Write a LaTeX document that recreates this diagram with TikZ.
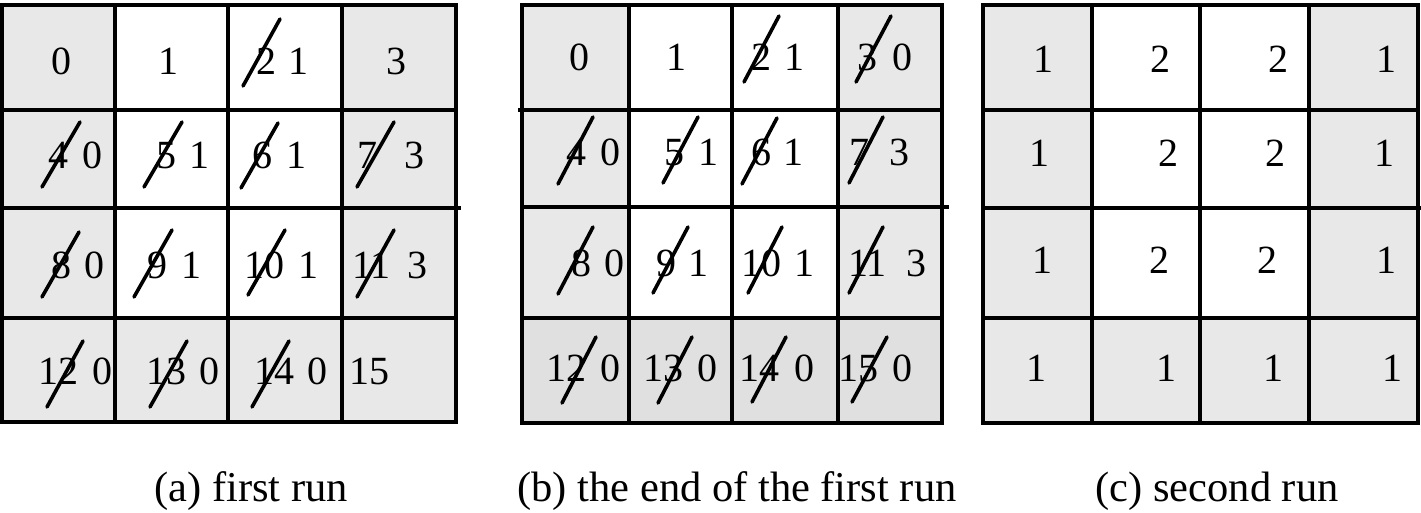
\documentclass[tikz,border=0pt]{standalone}
\usepackage{fontspec}
\setmainfont{Liberation Serif}
\definecolor{cellgray}{HTML}{E8E8E8}
\definecolor{celldark}{HTML}{E0E0E0}
\tikzset{
  num/.style={inner sep=0pt, anchor=base west, font=\fontsize{40}{44}\selectfont},
  captext/.style={inner sep=0pt, anchor=base, font=\fontsize{42.5}{48}\selectfont},
  gridline/.style={line width=3.2pt, line cap=rect},
  strike/.style={line width=3.6pt, line cap=round},
}
\begin{document}
\begin{tikzpicture}[x=1pt,y=-1pt]
\useasboundingbox (0,0) rectangle (1421,513);
% ---------- panel (a)
\fill[cellgray] (2,5) rectangle (456,422);
\fill[white] (115,5) rectangle (342,318);
\foreach \x in {2,115,228,342,456} \draw[gridline] (\x,5) -- (\x,422);
\foreach \y in {5,110,318,422} \draw[gridline] (2,\y) -- (456,\y);
\draw[gridline] (2,208) -- (459,208);
% ---------- panel (b)
\fill[cellgray] (522,5) rectangle (942,318);
\fill[celldark] (522,318) rectangle (942,423);
\fill[white] (629,5) rectangle (838,318);
\foreach \x in {522,629,732,838,942} \draw[gridline] (\x,5) -- (\x,423);
\foreach \y in {5,318,423} \draw[gridline] (522,\y) -- (942,\y);
\draw[gridline] (520,110) -- (942,110);
\draw[gridline] (522,207) -- (947,207);
% ---------- panel (c)
\fill[cellgray] (983,5) rectangle (1418,423);
\fill[white] (1092,5) rectangle (1309,318);
\foreach \x in {983,1092,1200,1309,1418} \draw[gridline] (\x,5) -- (\x,423);
\foreach \y in {5,110,318,423} \draw[gridline] (983,\y) -- (1418,\y);
\draw[gridline] (983,208) -- (1421,208);
% ---------- numbers (a)
\foreach \t/\x/\y [count=\i] in {
  0/51/75, 1/158/75, 2/256/75, 1/288/75, 3/386/75,
  4/48/169, 0/82/169, 5/156/169, 1/189/169, 6/252/169, 1/286/169, 7/357/169, 3/404/169,
  8/51/278, 0/84/278, 9/147/278, 1/181/278, 10/244/278, 1/298/278, 11/352/278, 3/407/278,
  12/38/384, 0/92/384, 13/146/384, 0/199/384, 14/254/384, 0/307/384, 15/349/384}
  \node[num] (na\i) at (\x,\y) {\t};
\foreach \xa/\ya/\xb/\yb [count=\i] in {
  243/86/280/19, 42/187/80/122, 144/187/182/122, 241/188/278/123, 357/187/394/122,
  42/297/79/232, 134/297/172/230, 248/295/285/230, 357/297/394/230,
  47/407/83/341, 150/407/187/341, 252/407/289/341}
  \draw[strike] (\xa,\ya) -- (\xb,\yb);
% ---------- numbers (b)
\foreach \t/\x/\y [count=\i] in {
  0/569/71, 1/666/71, 2/751/71, 1/784/71, 3/857/71, 0/892/71,
  4/566/166, 0/600/166, 5/664/166, 1/698/166, 6/751/166, 1/783/166, 7/849/166, 3/889/166,
  8/571/276, 0/604/276, 9/656/276, 1/688/276, 10/741/276, 1/794/276, 11/848/276, 3/906/276,
  12/546/381, 0/600/381, 13/643/381, 0/697/381, 14/739/381, 0/794/381, 15/838/381, 0/892/381}
  \node[num] (nb\i) at (\x,\y) {\t};
\foreach \xa/\ya/\xb/\yb [count=\i] in {
  744/82/779/16, 856/82/891/16, 558/184/593/117, 663/183/698/117, 742/184/777/118, 849/183/883/117,
  558/294/593/227, 653/293/688/227, 748/293/782/227, 849/293/883/227,
  562/403/596/337, 658/403/692/337, 752/402/786/337, 852/402/887/337}
  \draw[strike] (\xa,\ya) -- (\xb,\yb);
% ---------- numbers (c)
\foreach \t/\x/\y [count=\i] in {
  1/1033/73, 2/1150/73, 2/1268/73, 1/1376/73,
  1/1029/167, 2/1158/167, 2/1265/167, 1/1374/167,
  1/1032/273, 2/1149/273, 2/1257/273, 1/1376/273,
  1/1026/381, 1/1156/381, 1/1263/381, 1/1382/381}
  \node[num] (nc\i) at (\x,\y) {\t};
% ---------- captions
\node[captext] (capa) at (251,501) {(a) first run};
\node[captext] (capb) at (737,501) {(b) the end of the first run};
\node[captext] (capc) at (1217,501) {(c) second run};
\end{tikzpicture}
\end{document}
